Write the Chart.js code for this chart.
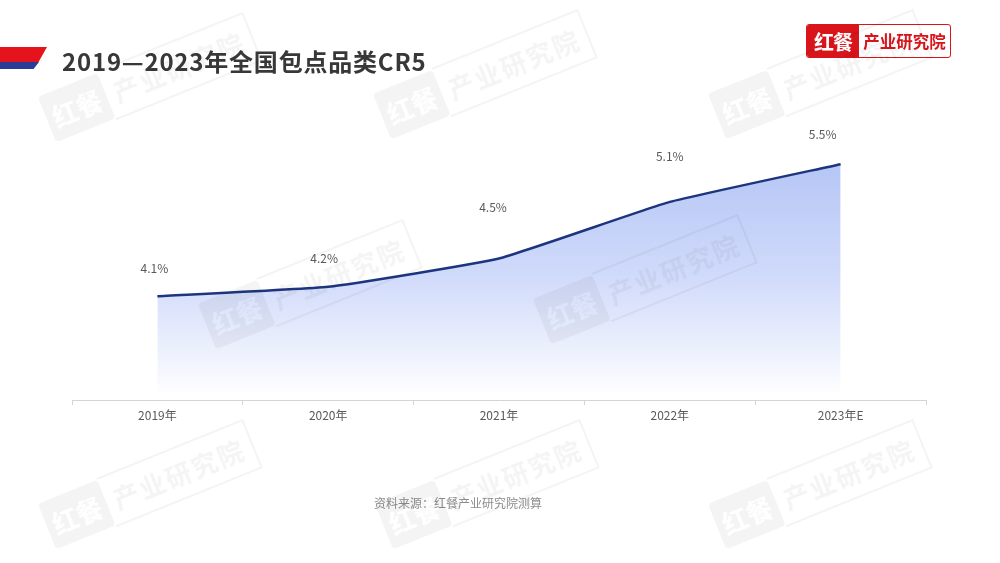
<!DOCTYPE html>
<html>
<head>
<meta charset="utf-8">
<script src="https://cdn.jsdelivr.net/npm/chart.js@4.4.0/dist/chart.umd.min.js"></script>
<style>
  html, body { margin: 0; padding: 0; background: #fff; }
  body { width: 1000px; height: 563px; position: relative; overflow: hidden;
         font-family: "Noto Sans CJK SC", "Noto Sans", sans-serif; }
  #wrap { position: absolute; left: 0; top: 0; width: 1000px; height: 563px; }
  .stripe-red { position: absolute; left: 0; top: 47px; width: 47px; height: 15px; background: #e5131c;
                clip-path: polygon(0 0, 100% 0, 82% 100%, 0 100%); }
  .stripe-blue { position: absolute; left: 0; top: 62px; width: 39px; height: 7px; background: #2b3c97;
                 clip-path: polygon(0 0, 100% 0, 86% 100%, 0 100%); }
  .title { position: absolute; left: 62px; top: 44px; font-size: 24px; font-weight: 700; color: #383838;
           letter-spacing: 0.8px; line-height: 34px; white-space: nowrap; }
  .logo { position: absolute; left: 806px; top: 24px; width: 143px; height: 32px; border: 1.5px solid #d9141b;
          border-radius: 3px; display: flex; overflow: hidden; background: #fff; }
  .logo .l { background: #d9141b; color: #fff; font-weight: 700; font-size: 20px; width: 52px;
             display: flex; align-items: center; justify-content: center; letter-spacing: -1px; }
  .logo .r { color: #d9141b; font-weight: 700; font-size: 16.5px; flex: 1;
             display: flex; align-items: center; justify-content: center; }
  .source { position: absolute; left: 0; width: 916px; top: 494px; text-align: center; font-size: 12px; color: #8c8c8c; }
  .wm { position: absolute; white-space: nowrap; transform: translate(-50%, -50%) rotate(-22deg);
        display: flex; align-items: center; pointer-events: none; opacity: 0.045; z-index: 5; }
  .wm .a { background: #000; color: #fff; font-weight: 700; font-size: 26px; padding: 6px 6px; border-radius: 4px; }
  .wm .b { color: #000; font-weight: 700; font-size: 26px; padding: 6px 8px; letter-spacing: 2px;
           border: 2px solid #000; border-left: none; }
</style>
</head>
<body>
<div id="wrap"><canvas id="cr5Chart" width="1000" height="563"></canvas></div>
<div class="stripe-red"></div>
<div class="stripe-blue"></div>
<div class="title">2019—2023年全国包点品类CR5</div>
<div class="logo"><div class="l">红餐</div><div class="r">产业研究院</div></div>
<div class="source">资料来源：红餐产业研究院测算</div>
<div id="marks"></div>
<script>
// data
const years = ["2019年", "2020年", "2021年", "2022年", "2023年E"];
const cr5 = [4.1, 4.2, 4.5, 5.1, 5.5];
const cr5Labels = ["4.1%", "4.2%", "4.5%", "5.1%", "5.5%"];

// watermarks
const wmSpots = [[150, 78], [485, 75], [820, 75], [310, 285], [645, 280], [150, 485], [487, 485], [820, 485]];
const marks = document.getElementById("marks");
wmSpots.forEach(function (p) {
  const d = document.createElement("div");
  d.className = "wm";
  d.style.left = p[0] + "px";
  d.style.top = p[1] + "px";
  d.innerHTML = '<span class="a">红餐</span><span class="b">产业研究院</span>';
  marks.appendChild(d);
});

// labels sit a little off the points, as in the source
const labelPlugin = {
  id: "valueLabels",
  afterDatasetsDraw(chart) {
    const ctx = chart.ctx;
    const meta = chart.getDatasetMeta(0);
    const lift = [28, 28, 51, 45, 30];
    const shift = [-3, -4, -6, 0, -18];
    ctx.save();
    ctx.font = "12px 'Noto Sans CJK SC', 'Noto Sans', sans-serif";
    ctx.fillStyle = "#595959";
    ctx.textAlign = "center";
    ctx.textBaseline = "middle";
    meta.data.forEach(function (pt, i) {
      ctx.fillText(cr5Labels[i], pt.x + shift[i], pt.y - lift[i]);
    });
    ctx.restore();
  }
};

function areaFill(context) {
  const area = context.chart.chartArea;
  if (!area) return "rgba(180,197,245,0.8)";
  const g = context.chart.ctx.createLinearGradient(0, area.top + 40, 0, area.bottom - 6);
  g.addColorStop(0, "#b4c5f5");
  g.addColorStop(0.5, "#d0dafa");
  g.addColorStop(0.92, "#f6f8fe");
  g.addColorStop(1, "#ffffff");
  return g;
}

const ctx = document.getElementById("cr5Chart").getContext("2d");
new Chart(ctx, {
  type: "line",
  data: {
    labels: years,
    datasets: [{
      data: cr5,
      borderColor: "#1d357f",
      borderWidth: 2.5,
      backgroundColor: areaFill,
      fill: "start",
      tension: 0.12,
      pointRadius: 0,
      borderJoinStyle: "round"
    }]
  },
  options: {
    responsive: false,
    animation: false,
    layout: { padding: { left: 72, right: 74, top: 117, bottom: 133 } },
    plugins: { legend: { display: false }, tooltip: { enabled: false } },
    scales: {
      x: {
        offset: true,
        grid: { offset: true, drawOnChartArea: false, drawTicks: true, tickLength: 5, color: "#d4d4d4" },
        border: { color: "#d4d4d4", width: 1 },
        ticks: { color: "#595959", padding: 3, font: { size: 12, family: "'Noto Sans CJK SC', 'Noto Sans', sans-serif" } },
        afterFit: function (s) { s.height = 30; }
      },
      y: { display: false, min: 3, max: 6 }
    }
  },
  plugins: [labelPlugin]
});
</script>
</body>
</html>
